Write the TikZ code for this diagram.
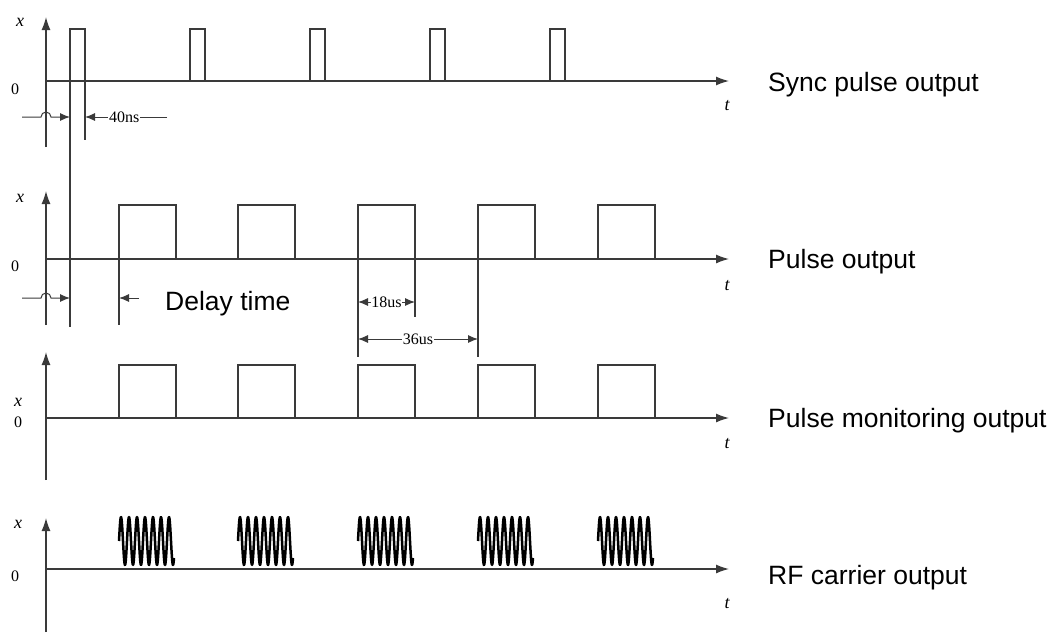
\documentclass[tikz,border=0pt]{standalone}
\usepackage{fontspec}
\setmainfont{Liberation Serif}
\setsansfont{Liberation Sans}
\usetikzlibrary{arrows.meta,positioning,calc}
\definecolor{ink}{HTML}{3A3A3A}
\tikzset{
  % --- lines
  axis/.style   = {-{Latex[length=13pt,width=9pt]}, line width=1.3pt, draw=ink},
  sig/.style    = {line width=1.3pt, draw=ink, line join=miter},
  guide/.style  = {line width=1.3pt, draw=ink},
  dim/.style    = {-{Latex[length=10pt,width=8pt]}, line width=1pt, draw=ink},
  dimboth/.style= {{Latex[length=10pt,width=8pt]}-{Latex[length=10pt,width=8pt]},
                   line width=1pt, draw=ink},
  rf/.style     = {line width=2.5pt, draw=black, line join=round},
  % --- texts
  var/.style    = {font=\fontsize{18}{18}\selectfont\itshape, inner sep=0pt},
  num/.style    = {font=\fontsize{16}{16}\selectfont, inner sep=0pt},
  dimlbl/.style = {font=\fontsize{16}{16}\selectfont, fill=white, inner sep=1pt},
  chan/.style   = {font=\sffamily\fontsize{26.5}{26.5}\selectfont, anchor=west, inner sep=0pt},
}

\begin{document}
\begin{tikzpicture}[x=1pt, y=-1pt]
  \useasboundingbox (0,0) rectangle (1055,632);

  % ------------------------------------------------------------------ sync pulse
  \draw[axis] (46,147) -- (46,17);
  \draw[axis] (46,81) -- (729,81);
  \node[var] (x1) at (20,22) {x};
  \node[num] (zero1) at (15,89) {0};
  \node[var] (t1) at (727,106) {t};
  \node[chan] (sync) at (768,85) {Sync pulse output};
  \foreach \s in {70,190,310,430,550}
    \draw[sig] (\s,81) -- (\s,29) -- ({\s+15},29) -- ({\s+15},81);

  % ------------------------------------------------------------------ pulse
  \draw[axis] (46,325) -- (46,191);
  \draw[axis] (46,259) -- (729,259);
  \node[var] (x2) at (20,198) {x};
  \node[num] (zero2) at (15,266) {0};
  \node[var] (t2) at (727,286) {t};
  \node[chan] (pulse) at (768,262) {Pulse output};
  \foreach \s in {119,238,358,478,598}
    \draw[sig] (\s,259) -- (\s,205) -- ({\s+57},205) -- ({\s+57},259);

  % ------------------------------------------------------------------ monitoring
  \draw[axis] (46,480) -- (46,352);
  \draw[axis] (46,418) -- (729,418);
  \node[var] (x3) at (18,402) {x};
  \node[num] (zero3) at (18,422) {0};
  \node[var] (t3) at (727,444) {t};
  \node[chan] (monitor) at (768,421) {Pulse monitoring output};
  \foreach \s in {119,238,358,478,598}
    \draw[sig] (\s,418) -- (\s,365) -- ({\s+57},365) -- ({\s+57},418);

  % ------------------------------------------------------------------ rf carrier
  \draw[axis] (46,632) -- (46,518);
  \draw[axis] (46,569) -- (729,569);
  \node[var] (x4) at (18,524) {x};
  \node[num] (zero4) at (15,576) {0};
  \node[var] (t4) at (727,604) {t};
  \node[chan] (rf) at (768,578) {RF carrier output};
  \foreach \s in {119,238,358,478,598}
    \draw[rf] plot[domain=0:55, samples=160] ({\s+\x},{541-24*sin(45*\x)});

  % ------------------------------------------------------------------ guides
  \draw[guide] (70,29) -- (70,327);
  \draw[guide] (85,81) -- (85,140);
  \draw[guide] (119,259) -- (119,325);
  \draw[guide] (358,259) -- (358,357);
  \draw[guide] (415,259) -- (415,317);
  \draw[guide] (478,259) -- (478,357);

  % ------------------------------------------------------------------ 40ns
  \coordinate (syncL) at (22,117);
  \coordinate (syncR) at (70,117);
  \draw[dim] (syncL) -- (41,117) arc[start angle=180, end angle=360, radius=5] -- (syncR);
  \coordinate (nsA) at (167,117);
  \coordinate (nsB) at (85,117);
  \draw[dim] (nsA) -- node[dimlbl, pos=0.52] (ns) {40ns} (nsB);

  % ------------------------------------------------------------------ delay
  \coordinate (dlyL) at (22,298);
  \coordinate (dlyR) at (70,298);
  \draw[dim] (dlyL) -- (41,298) arc[start angle=180, end angle=360, radius=5] -- (dlyR);
  \coordinate (dlyA) at (139,298);
  \coordinate (dlyB) at (119,298);
  \draw[dim] (dlyA) -- (dlyB);
  \node[chan] (delay) at (165,304) {Delay time};

  % ------------------------------------------------------------------ 18us / 36us
  \coordinate (a18) at (358,302);
  \coordinate (b18) at (415,302);
  \draw[dimboth] (a18) -- node[dimlbl, inner sep=0.5pt] (us18) {18us} (b18);
  \coordinate (a36) at (358,339);
  \coordinate (b36) at (478,339);
  \draw[dimboth] (a36) -- node[dimlbl] (us36) {36us} (b36);
\end{tikzpicture}
\end{document}
